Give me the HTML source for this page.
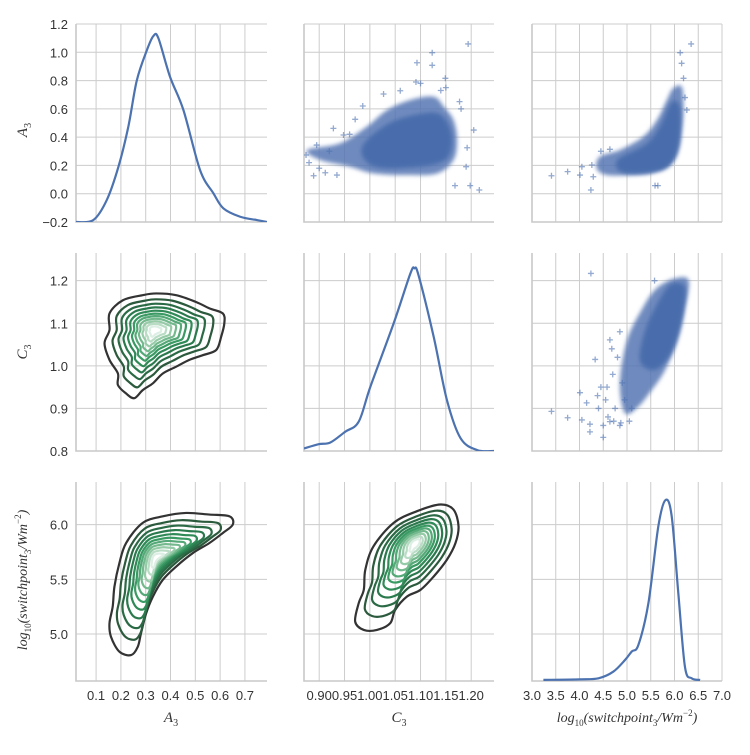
<!DOCTYPE html>
<html><head><meta charset="utf-8"><style>
body{margin:0;background:#fff;}
svg text{font-family:"Liberation Sans",sans-serif;fill:#333;}
.math{font-family:"Liberation Serif",serif;font-style:italic;}
</style></head><body>
<svg id="chart" width="750" height="750" xmlns="http://www.w3.org/2000/svg"></svg>
<script>
// ---- data ----
const a3Ticks=[0.1,0.2,0.3,0.4,0.5,0.6,0.7];
const c3Ticks=[0.90,0.95,1.00,1.05,1.10,1.15,1.20];
const lTicks=[3.0,3.5,4.0,4.5,5.0,5.5,6.0,6.5,7.0];
const a3YTicks=[-0.2,0.0,0.2,0.4,0.6,0.8,1.0,1.2];
const c3YTicks=[0.8,0.9,1.0,1.1,1.2];
const lYTicks=[5.0,5.5,6.0];
const diagA3x=[0.019,0.089,0.143,0.19,0.23,0.264,0.305,0.331,0.351,0.398,0.452,0.519,0.573,0.613,0.681,0.748,0.789];
const diagA3y=[-0.2,-0.186,-0.045,0.19,0.474,0.80,1.016,1.115,1.10,0.827,0.592,0.168,0.003,-0.103,-0.163,-0.186,-0.2];
const diagC3x=[0.870,0.899,0.922,0.951,0.978,1.001,1.047,1.080,1.088,1.096,1.126,1.152,1.179,1.212,1.245];
const diagC3y=[0.806,0.816,0.820,0.845,0.869,0.951,1.100,1.217,1.229,1.213,1.068,0.920,0.830,0.802,0.800];
const diagLx=[3.24,4.01,4.40,4.71,4.96,5.10,5.24,5.45,5.66,5.81,5.94,6.08,6.22,6.36,6.54];
const diagLy=[4.58,4.585,4.595,4.655,4.763,4.84,4.90,5.28,5.986,6.224,6.08,5.375,4.70,4.595,4.58];
// scatter C3 vs A3
const s1HullX=[0.876,0.941,0.994,1.034,1.080,1.126,1.146,1.165,1.172,1.165,1.133,1.074,1.007,0.961,0.902];
const s1HullY=[0.309,0.356,0.474,0.592,0.663,0.686,0.615,0.521,0.380,0.238,0.144,0.132,0.144,0.191,0.238];
const s1CoreX=[0.985,1.034,1.093,1.139,1.162,1.145,1.060,1.001];
const s1CoreY=[0.332,0.490,0.560,0.560,0.403,0.230,0.180,0.205];
const s1PtsX=[1.194,1.123,1.093,1.123,1.149,1.091,1.060,1.027,0.986,0.971,0.928,0.895,0.889,0.935,0.912,1.168,1.198,1.216,1.192,1.205,1.177,1.190,0.874,0.948,0.90,0.92,0.88,0.96,1.15,1.18,1.10,1.14];
const s1PtsY=[1.059,0.997,0.926,0.908,0.816,0.790,0.728,0.705,0.620,0.526,0.462,0.344,0.127,0.132,0.148,0.057,0.057,0.026,0.325,0.450,0.651,0.191,0.274,0.415,0.18,0.30,0.22,0.42,0.75,0.60,0.78,0.73];
// scatter L vs A3
const s2HullX=[4.43,4.85,5.34,5.63,5.84,5.97,6.15,6.19,6.15,6.05,5.84,5.48,5.06,4.57,4.36];
const s2HullY=[0.262,0.309,0.403,0.521,0.663,0.745,0.757,0.615,0.450,0.285,0.191,0.144,0.132,0.132,0.179];
const s2CoreX=[4.8,5.4,5.7,5.95,6.12,6.1,5.9,5.5,4.9];
const s2CoreY=[0.24,0.35,0.48,0.65,0.60,0.35,0.20,0.15,0.15];
const s2PtsX=[6.35,6.12,6.15,6.19,3.41,3.75,4.01,4.24,4.05,4.26,4.64,5.59,6.26,4.29,5.65,4.45,6.22];
const s2PtsY=[1.059,0.997,0.922,0.816,0.127,0.156,0.132,0.026,0.191,0.203,0.314,0.057,0.592,0.120,0.057,0.30,0.68];
// scatter L vs C3
const s3HullX=[4.85,5.0,5.3,5.6,6.0,6.3,6.2,6.05,5.8,5.5,5.2,4.95];
const s3HullY=[0.96,1.06,1.13,1.18,1.205,1.2,1.13,1.06,0.99,0.94,0.90,0.89];
const s3CoreX=[5.27,5.41,5.76,5.97,6.22,6.20,6.05,5.84,5.55];
const s3CoreY=[1.014,1.092,1.170,1.194,1.185,1.131,1.061,1.014,0.990];
const s3PtsX=[4.24,3.41,3.75,4.01,4.05,4.22,4.22,4.50,4.33,4.64,4.15,4.64,4.87,5.58,4.45,4.55,4.70,4.80,4.60,4.75,4.90,4.40,4.50,4.68,4.85,5.05,4.95,4.58,4.72,4.38,4.85,5.10];
const s3PtsY=[1.217,0.893,0.878,0.937,0.873,0.863,0.845,0.832,1.015,1.061,0.913,0.869,0.866,1.200,0.95,0.92,0.98,1.02,0.88,0.90,0.96,0.90,0.86,1.04,1.08,0.87,0.92,0.95,0.87,0.93,0.86,0.90];
// contours: outer contour, center, levels
const k1X=[0.154,0.208,0.288,0.342,0.423,0.503,0.557,0.611,0.617,0.604,0.584,0.530,0.476,0.423,0.369,0.329,0.288,0.254,0.221,0.188,0.188,0.154,0.134,0.154];
const k1Y=[1.123,1.154,1.166,1.170,1.166,1.150,1.135,1.123,1.100,1.068,1.037,1.025,1.014,0.998,0.982,0.959,0.943,0.924,0.935,0.955,0.982,1.014,1.053,1.084];
const k1C=[0.335,1.084];
const k2X=[0.221,0.288,0.369,0.463,0.557,0.638,0.651,0.611,0.557,0.490,0.423,0.369,0.329,0.302,0.281,0.268,0.241,0.194,0.160,0.154,0.167,0.174,0.194];
const k2Y=[5.832,6.016,6.076,6.107,6.092,6.076,6.0,5.924,5.832,5.740,5.617,5.495,5.342,5.190,5.006,4.883,4.807,4.838,4.975,5.098,5.251,5.434,5.649];
const k2C=[0.342,5.694];
const k3X=[1.007,1.047,1.093,1.139,1.165,1.175,1.169,1.152,1.126,1.100,1.073,1.050,1.040,1.014,0.988,0.971,0.978,0.988,0.991];
const k3Y=[5.801,6.016,6.123,6.184,6.138,5.985,5.832,5.679,5.526,5.404,5.342,5.220,5.098,5.037,5.037,5.113,5.282,5.404,5.587];
const k3C=[1.090,5.832];
const levels=[1,0.84,0.72,0.62,0.53,0.45,0.38,0.31,0.24,0.17,0.10];
const levelColors=["#333333","#2b5a3d","#2a6a45","#2b7a4e","#2f8a57","#3a9a63","#55a877","#74b98e","#96cba8","#b9dcc5","#ddefe4"];

// ---- scales ----
const NS="http://www.w3.org/2000/svg";
const svg=document.getElementById('chart');
function lin(d0,d1,r0,r1){return v=>r0+(v-d0)/(d1-d0)*(r1-r0);}
const X=[lin(0.019,0.789,76,267),lin(0.870,1.245,304,494),lin(3.0,7.0,532,722)];
const Y=[lin(-0.2,1.2,222,24),lin(0.8,1.265,451,253),lin(4.57,6.39,681,482)];
const colL=[76,304,532],colR=[267,494,722],rowT=[24,253,482],rowB=[222,451,681];
const xT=[a3Ticks,c3Ticks,lTicks],yT=[a3YTicks,c3YTicks,lYTicks];
const xFmt=[v=>v.toFixed(1),v=>v.toFixed(2),v=>v.toFixed(1)];
const yFmt=[v=>(v<0?'\u2212':'')+Math.abs(v).toFixed(1),v=>v.toFixed(1),v=>v.toFixed(1)];
function el(t,a,p){const e=document.createElementNS(NS,t);for(const k in a)e.setAttribute(k,a[k]);(p||svg).appendChild(e);return e;}
function smooth(pts,closed){
  const n=pts.length;let d='M'+pts[0][0]+','+pts[0][1];
  const g=i=>closed?pts[(i+n)%n]:pts[Math.max(0,Math.min(n-1,i))];
  const m=closed?n:n-1;
  for(let i=0;i<m;i++){const p0=g(i-1),p1=g(i),p2=g(i+1),p3=g(i+2);
    d+=' C'+(p1[0]+(p2[0]-p0[0])/6)+','+(p1[1]+(p2[1]-p0[1])/6)+' '+(p2[0]-(p3[0]-p1[0])/6)+','+(p2[1]-(p3[1]-p1[1])/6)+' '+p2[0]+','+p2[1];}
  return d+(closed?' Z':'');
}
const defs=el('defs',{});
for(let r=0;r<3;r++)for(let c=0;c<3;c++){
  const cp=el('clipPath',{id:'cp'+r+c},defs);
  el('rect',{x:colL[c],y:rowT[r],width:colR[c]-colL[c],height:rowB[r]-rowT[r]},cp);
}
const blur=el('filter',{id:'soft',x:'-20%',y:'-20%',width:'140%',height:'140%'},defs);
el('feGaussianBlur',{stdDeviation:2},blur);
for(let r=0;r<3;r++)for(let c=0;c<3;c++){
  const g=el('g',{});
  
  
  xT[c].forEach(v=>{const x=X[c](v);if(x>=colL[c]-0.5&&x<=colR[c]+0.5){const l=el('line',{x1:x,x2:x,y1:rowT[r],y2:rowB[r],stroke:'#cccccc','stroke-width':1},g);}});
  yT[r].forEach(v=>{const y=Y[r](v);if(y>=rowT[r]-0.5&&y<=rowB[r]+0.5){const l=el('line',{x1:colL[c],x2:colR[c],y1:y,y2:y,stroke:'#cccccc','stroke-width':1},g);}});
  const sp=el('path',{d:'M'+colL[c]+','+rowT[r]+' V'+rowB[r]+' H'+colR[c],fill:'none',stroke:'#c8c8c8','stroke-width':1.6},g);
  
}
for(let r=0;r<3;r++)yT[r].forEach(v=>{const t=el('text',{x:68,y:Y[r](v)+5,'text-anchor':'end','font-size':13});t.textContent=yFmt[r](v);});
for(let c=0;c<3;c++)xT[c].forEach(v=>{const t=el('text',{x:X[c](v),y:700,'text-anchor':'middle','font-size':13});t.textContent=xFmt[c](v);});
function diag(i,xs,ys){const pts=xs.map((v,k)=>[X[i](v),Y[i](ys[k])]);const p=el('path',{d:smooth(pts,false),fill:'none',stroke:'#4c72b0','stroke-width':2.2,'clip-path':'url(#cp'+i+i+')'});}
diag(0,diagA3x,diagA3y);diag(1,diagC3x,diagC3y);diag(2,diagLx,diagLy);
function scatter(r,c,hx,hy,cx,cy,px,py,name){
  const g=el('g',{'clip-path':'url(#cp'+r+c+')'});
  
  const h=el('path',{d:smooth(hx.map((v,k)=>[X[c](v),Y[r](hy[k])]),true),fill:'#5576b3','fill-opacity':0.85,filter:'url(#soft)'},g);
  
  const co=el('path',{d:smooth(cx.map((v,k)=>[X[c](v),Y[r](cy[k])]),true),fill:'#4a6dac','fill-opacity':1,filter:'url(#soft)'},g);
  
  px.forEach((v,k)=>{const x=X[c](v),y=Y[r](py[k]);const m=el('path',{d:'M'+(x-3)+','+y+'H'+(x+3)+'M'+x+','+(y-3)+'V'+(y+3),stroke:'#4c72b0','stroke-opacity':0.6,'stroke-width':1.3},g);});
}
scatter(0,1,s1HullX,s1HullY,s1CoreX,s1CoreY,s1PtsX,s1PtsY,'scatter-c3-a3');
scatter(0,2,s2HullX,s2HullY,s2CoreX,s2CoreY,s2PtsX,s2PtsY,'scatter-log-a3');
scatter(1,2,s3HullX,s3HullY,s3CoreX,s3CoreY,s3PtsX,s3PtsY,'scatter-log-c3');
function contour(r,c,ox,oy,ctr,name){
  const g=el('g',{'clip-path':'url(#cp'+r+c+')'});
  
  levels.forEach((s,i)=>{
    const pts=ox.map((v,k)=>[X[c](ctr[0]+(v-ctr[0])*s),Y[r](ctr[1]+(oy[k]-ctr[1])*s)]);
    const p=el('path',{d:smooth(pts,true),fill:'none',stroke:levelColors[i],'stroke-width':2.2},g);
    
  });
}
contour(1,0,k1X,k1Y,k1C,'kde-contour-a3-c3');
contour(2,0,k2X,k2Y,k2C,'kde-contour-a3-log');
contour(2,1,k3X,k3Y,k3C,'kde-contour-c3-log');
</script>
<svg width="750" height="750" style="position:absolute;left:0;top:0" xmlns="http://www.w3.org/2000/svg">
<text class="math" font-size="15" transform="translate(27,130) rotate(-90)" text-anchor="middle">A<tspan font-size="10" dy="4" font-style="normal">3</tspan></text>
<text class="math" font-size="15" transform="translate(27,352) rotate(-90)" text-anchor="middle">C<tspan font-size="10" dy="4" font-style="normal">3</tspan></text>
<text class="math" font-size="14" transform="translate(27,580) rotate(-90)" text-anchor="middle">log<tspan font-size="9" dy="4" font-style="normal">10</tspan><tspan dy="-4">(switchpoint</tspan><tspan font-size="9" dy="4" font-style="normal">3</tspan><tspan dy="-4">/Wm</tspan><tspan font-size="9" dy="-6" font-style="normal">−2</tspan><tspan dy="6">)</tspan></text>
<text class="math" font-size="15" x="171" y="722" text-anchor="middle">A<tspan font-size="10" dy="4" font-style="normal">3</tspan></text>
<text class="math" font-size="15" x="399" y="722" text-anchor="middle">C<tspan font-size="10" dy="4" font-style="normal">3</tspan></text>
<text class="math" font-size="14" x="627" y="722" text-anchor="middle">log<tspan font-size="9" dy="4" font-style="normal">10</tspan><tspan dy="-4">(switchpoint</tspan><tspan font-size="9" dy="4" font-style="normal">3</tspan><tspan dy="-4">/Wm</tspan><tspan font-size="9" dy="-6" font-style="normal">−2</tspan><tspan dy="6">)</tspan></text>
</svg>
</body></html>
